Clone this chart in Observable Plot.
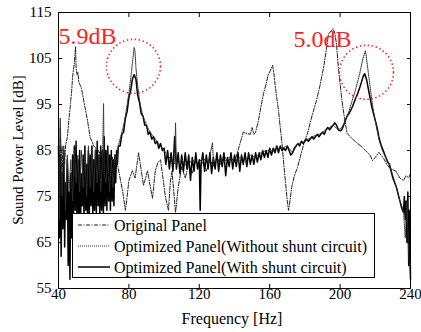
<!DOCTYPE html>
<html><head><meta charset="utf-8">
<script src="https://cdn.jsdelivr.net/npm/d3@7"></script>
<script src="https://cdn.jsdelivr.net/npm/@observablehq/plot@0.6"></script>
<style>body{margin:0;background:#fff} svg{display:block}</style>
</head><body><div id="chart"></div>
<script>
const xTicks = [40, 80, 120, 160, 200, 240];
const yTicks = [55, 65, 75, 85, 95, 105, 115];
const seriesNames = ["Original Panel", "Optimized Panel(Without shunt circuit)", "Optimized Panel(With shunt circuit)"];
const xTitle = "Frequency [Hz]";
const yTitle = "Sound Power Level [dB]";

// Original panel (dash-dot)
const origFreq = [40,40.5,41,41.5,42,42.5,43,43.5,44,45,46,46.8,47.5,48,48.5,49,49.7,50,50.5,51,51.5,52,53,53.6,54.5,55.5,56.5,57.3,58,59,60,61,62,62.7,64,65.6,66.5,67.5,68.4,69.5,70.7,72,73.5,75,76.5,78,79,80,82,83.5,85.5,86.5,88.3,89.5,90.6,92,93.4,95,96.5,98,99,100.8,102.5,103.5,104.5,105.5,106.5,108,110,112,114,116,118,120,122,124,126,128,130,132,134,136,138,140,142,143.5,145,147,149,150,151,152,153.6,155,156.5,158,159,160.5,161.6,162.3,163,164,165,166,167,168,169,170,170.7,171.5,172.5,174,175.8,178,180,181.5,184,186.6,188.5,190.6,192,193.4,196,197,198,199,200,201,202.5,204,207,210,212.7,214.4,217,218.4,220,222,224.7,226.5,228.6,231.5,234,236,237.5,239,240];
const origLevel = [88,78,90,80,86,79,85,82,86,87.8,92,95.2,98,101,102.5,104,107.6,103,101.5,102,100,99.5,98.5,97.4,95.5,93.5,91.5,89.5,87.8,87,86,85.6,84,85,84,82,83,80.5,80,82,83.5,81,82,79,76,72,75,78.5,80.6,79,84.5,82,77.4,79,80.6,77.5,74.6,80.6,82.4,83,80,74.8,72,78,80.5,76,71.5,77,81.5,79,82,80,83,81,82.5,80.5,83,81.5,83.5,82,84,82.5,83.5,82.5,85,87,89,88.7,88.5,90,88.5,89,91.5,94.5,97.4,99.5,101.3,102.5,103.5,102,99.5,96.5,93.7,90,86.5,82,78,74,72,74,77,79.5,81.3,84.5,87.3,88.7,92.5,95.9,99,103,106.5,110.3,111.5,110.5,108,103,99.5,96,92,88.7,87.5,86.5,85.7,85,84,82.8,83.5,84.6,83.3,82,81,80.6,79,78.5,79.5,79.1,80];

// Optimized panel without shunt circuit (dotted)
const woFreq = [40,40.5,41,42,43,44,45,46,47,48,49,50,51,52,53,54,55,56,57,58,59,60,61,62,63,64,65,65.6,66,67,68,69,70,71,72,73,74,75,76,77,78,79,80,81,82,83,83.5,84,85,86,87,88,89,90,92,94,96,98,100,102,104,106,106.5,107,110,113,116,119,122,125,127.5,128,131,134,137,140,143,146,149,152,155,158,161,164,167,170,173,176,180,184,188,192,196,199,201,203,205,207,209,211,213,214.4,215,216,217,218,219,220,221,222,224,226,228,230,232,234,236,237,238,239,240];
const woLevel = [95,70,92,75,86,72,84,76,83,74,85,78,84,76,85,77,84,75,86,77,84,76,85,78,84,76,83,95.2,80,78,84,76,83,77,84,82,86,87.5,89,90.5,92.5,95,97.5,100.5,104,107.4,106.5,103,99,96,94,92.5,91.5,90.5,89,88,87,86,85,84,83,82,91,82,83,81.5,83,82,83.5,82,86.7,82.5,83,82.5,83.5,82.5,83.5,83,84,83.5,84.5,85,85,85.5,85.5,86,84.5,86.5,87,88,88.5,89.5,90.5,89.5,90,91.5,93.5,96,98.5,101.5,105,106.7,105,102,99,96,93.5,91.5,89.5,87.5,85,83.5,82,79.5,77,74,72,66,74,62,58];

// Optimized panel with shunt circuit (solid)
const withFreq = [40,40.5,41,41.5,42,42.5,43,43.5,44,44.5,45,45.5,46,46.5,47,47.5,48,48.5,49,49.5,
50,50.5,51,51.5,52,52.5,53,53.5,54,54.5,55,55.5,56,56.5,57,57.5,58,58.5,59,59.5,
60,60.5,61,61.5,62,62.5,63,63.5,64,64.5,65,65.5,66,66.5,67,67.5,68,68.5,69,69.5,
70,70.5,71,71.5,72,72.5,73,73.5,74,
75,76,77,78,79,80,81,82,83,84,85,86,87,88,89,90,91,92,93,94,95,96,97,98,99,
100,101,102,103,104,105,106,107,108,109,110,111,112,113,114,115,116,117,118,119,120,120.5,
121,122,123,124,125,126,127,128,129,130,131,132,133,134,135,136,137,138,139,140,
141,142,143,144,145,146,147,148,149,150,151,152,153,154,155,156,157,158,159,160,
161,162,163,164,165,166,167,168,169,170,171,172,173,174,175,176,177,178,179,180,
181,182,183,184,185,186,187,188,189,190,191,192,193,194,195,196,197,198,199,200,
201,202,203,204,205,206,207,208,209,210,211,212,213,214,215,216,217,218,219,220,
221,222,223,224,225,226,227,228,229,230,231,232,233,234,235,236,
236.5,237,237.5,238,238.5,239,239.5,240];
const withLevel = [86,66,84,62,80,68,85,64,78,70,83,60,76,57,80,66,84,70,86,72,
87,69,83,71,85,68,80,73,84,70,86,72,82,70,85,71,84,73,86,70,
83,72,85,71,87,73,84,70,86,72,85,71,88,73,85,72,86,74,84,72,
85,74,83,73,84,78,85,82,86,
86,88.5,89,92,93.5,96.5,98,100.5,101.5,100.5,97,95.5,93,92.5,90.5,90.5,88.5,89,87.5,88,86.5,87,85.5,86.5,85,
85.5,82,85,81,84.5,80.5,88,81,84.5,80,84,80.5,84.5,81,84,78.5,83.5,80.5,84.5,81,83,72,
82,84.5,80.5,84,81,84.5,80,83.5,81,84.5,
80.5,84,81.5,84.5,79.5,83.5,81.5,84.5,81,84,
81.5,84.5,80.5,84,82,84.5,81.5,84.5,82,84,
82,84.5,82.5,84.5,83,85,83.5,85,83.5,85.5,
84,85.5,84.5,86,84.5,86,85,85.5,85,86,
85,84,84.5,85.5,86,86.5,86,87,86.5,87,
87.5,87,87.5,88,87.5,88,88.5,88,88.5,89,
88.5,89.5,90,89.5,90,90.5,91,90.5,89.5,89.3,
89.5,90.5,91.5,92.5,93,93.7,94.5,95.5,96.5,97.4,
98.5,99.7,101,101.7,100.5,98.5,96.5,94.5,93,91.5,
90,88,86.5,85.5,84.5,83.5,82.5,82,80.5,79,
78,77,75.5,74,72.5,71.5,
75,70,74,65,76,60,72,57];

// Annotations
const annText = ["5.9dB", "5.0dB"];
const annFreq = [40, 173.5];
const annLevel = [109.9, 109.2];
const circleFreq = [82.6, 215];
const circleLevel = [103.3, 102];

for (const [a, b, n] of [[origFreq, origLevel, "orig"], [woFreq, woLevel, "wo"], [withFreq, withLevel, "with"]]) {
  if (a.length !== b.length) throw new Error(n + " length mismatch " + a.length + " vs " + b.length);
}

const FONT = "'Liberation Serif', 'Times New Roman', serif";
const seriesStyles = [
  {stroke: "#222", strokeWidth: 1, strokeDasharray: "4,1.5,1,1.5"},
  {stroke: "#333", strokeWidth: 1, strokeDasharray: "1,1"},
  {stroke: "#000", strokeWidth: 1.5, strokeDasharray: null}
];
const rows = (f, v) => f.map((x, i) => ({f: x, v: v[i]}));
const ann = annText.map((t, i) => ({t, f: annFreq[i], v: annLevel[i]}));
const circles = circleFreq.map((f, i) => ({f, v: circleLevel[i]}));

const chart = Plot.plot({
  width: 421, height: 332,
  marginLeft: 58, marginRight: 11, marginTop: 12, marginBottom: 44,
  style: {fontFamily: FONT, fontSize: "15px", background: "#fff", color: "#000"},
  x: {domain: [40, 240]},
  y: {domain: [55, 115]},
  marks: [
    Plot.line(rows(origFreq, origLevel), {x: "f", y: "v", ...seriesStyles[0]}),
    Plot.line(rows(withFreq, withLevel), {x: "f", y: "v", ...seriesStyles[2]}),
    Plot.line(rows(woFreq, woLevel), {x: "f", y: "v", ...seriesStyles[1]}),
    Plot.frame({stroke: "#000"}),
    Plot.axisX(xTicks, {anchor: "bottom", tickSize: -4, tickPadding: 4, label: null, fontSize: 15, fontFamily: FONT}),
    Plot.axisX(xTicks, {anchor: "top", tickSize: -4, tickFormat: () => "", label: null}),
    Plot.axisY(yTicks, {anchor: "left", tickSize: -4, tickPadding: 11, label: null, fontSize: 15, fontFamily: FONT}),
    Plot.axisY(yTicks, {anchor: "right", tickSize: -4, tickFormat: () => "", label: null}),
    Plot.dot(circles, {x: "f", y: "v", r: 27, stroke: "#ff2020", strokeWidth: 1.6, strokeDasharray: "1.4,2.6", fill: "none"}),
    Plot.text(ann, {x: "f", y: "v", text: "t", fill: "#ff2020", fontSize: 24, fontFamily: FONT, textAnchor: "start", lineAnchor: "middle"})
  ]
});
document.getElementById("chart").appendChild(chart);

const svg = d3.select(chart);
// axis titles
svg.append("text").attr("x", 232).attr("y", 318).attr("text-anchor", "middle").attr("dominant-baseline", "central")
  .attr("font-family", FONT).attr("font-size", 16).text(xTitle);
svg.append("text").attr("transform", "translate(18,150) rotate(-90)").attr("text-anchor", "middle").attr("dominant-baseline", "central")
  .attr("font-family", FONT).attr("font-size", 15).text(yTitle);
// legend
const lg = svg.append("g");
lg.append("rect").attr("x", 72.5).attr("y", 213.5).attr("width", 302).attr("height", 64).attr("fill", "#fff").attr("stroke", "#000");
seriesNames.forEach((name, i) => {
  const y = 225 + i * 21;
  const s = seriesStyles[i];
  lg.append("line").attr("x1", 78).attr("x2", 110).attr("y1", y).attr("y2", y)
    .attr("stroke", s.stroke).attr("stroke-width", s.strokeWidth).attr("stroke-dasharray", s.strokeDasharray);
  lg.append("text").attr("x", 114).attr("y", y).attr("text-anchor", "start").attr("dominant-baseline", "central")
    .attr("font-family", FONT).attr("font-size", 16).text(name);
});
</script>
</body></html>
